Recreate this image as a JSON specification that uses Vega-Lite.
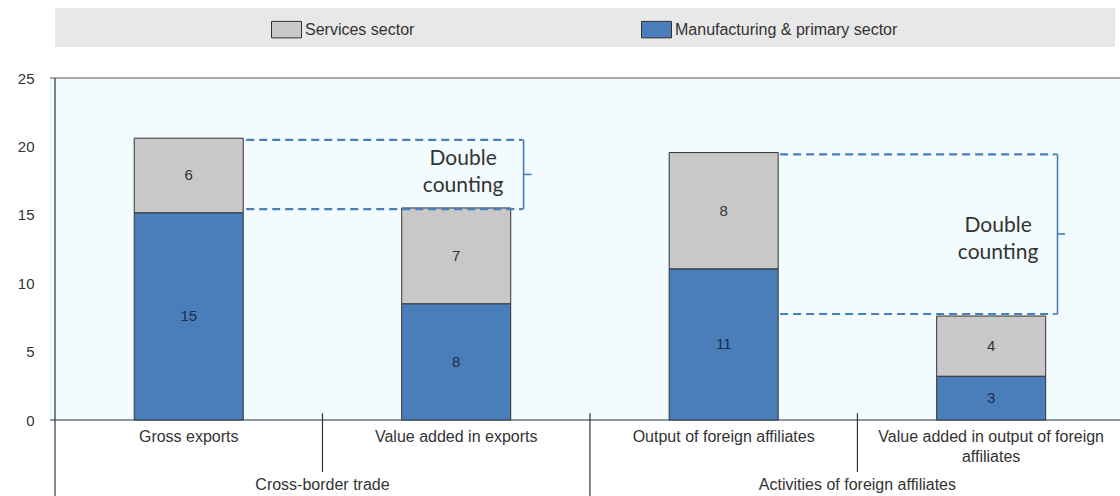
{
  "$schema": "https://vega.github.io/schema/vega-lite/v6.json",
  "width": 1070,
  "height": 342,
  "autosize": {"type": "none"},
  "padding": {"left": 50, "top": 78, "right": 0, "bottom": 76},
  "background": "white",
  "config": {
    "view": {"fill": "#f2fbfd", "stroke": null},
    "font": "Liberation Sans",
    "axisY": {"labelFont": "Liberation Sans", "labelFontSize": 15, "labelColor": "#333", "ticks": false, "domain": false, "grid": false, "labelPadding": 16, "title": null},
    "legend": {"orient": "none", "legendX": 221, "legendY": -64, "direction": "horizontal", "title": null, "labelFont": "Liberation Sans", "labelFontSize": 16, "labelColor": "#333", "symbolType": "M-1,-0.55H1V0.55H-1Z", "symbolSize": 900, "symbolStrokeColor": "#333", "symbolStrokeWidth": 1, "symbolOpacity": 1, "columnPadding": 224, "labelOffset": 3, "zindex": 1, "labelLimit": 400}
  },
  "datasets": {
    "bars": [
      {"category": "Gross exports", "pos": 0.5, "sector": "Manufacturing & primary sector", "value": 15.15, "label": "15"},
      {"category": "Gross exports", "pos": 0.5, "sector": "Services sector", "value": 5.45, "label": "6"},
      {"category": "Value added in exports", "pos": 1.5, "sector": "Manufacturing & primary sector", "value": 8.5, "label": "8"},
      {"category": "Value added in exports", "pos": 1.5, "sector": "Services sector", "value": 7.0, "label": "7"},
      {"category": "Output of foreign affiliates", "pos": 2.5, "sector": "Manufacturing & primary sector", "value": 11.05, "label": "11"},
      {"category": "Output of foreign affiliates", "pos": 2.5, "sector": "Services sector", "value": 8.5, "label": "8"},
      {"category": "Value added in output of foreign affiliates", "pos": 3.5, "sector": "Manufacturing & primary sector", "value": 3.2, "label": "3"},
      {"category": "Value added in output of foreign affiliates", "pos": 3.5, "sector": "Services sector", "value": 4.4, "label": "4"}
    ],
    "categories": [
      {"text": "Gross exports", "pos": 0.5},
      {"text": "Value added in exports", "pos": 1.5},
      {"text": "Output of foreign affiliates", "pos": 2.5},
      {"text": "Value added in output of foreign\naffiliates", "pos": 3.5}
    ],
    "groups": [
      {"text": "Cross-border trade", "pos": 1},
      {"text": "Activities of foreign affiliates", "pos": 3}
    ],
    "separators": [
      {"pos": 0, "start": 25, "end": -5.6},
      {"pos": 1, "start": 0.5, "end": -3.8},
      {"pos": 2, "start": 0.5, "end": -5.6},
      {"pos": 3, "start": 0.5, "end": -3.8}
    ],
    "band": [{"x": 0, "x2": 3.963, "y": 27.27, "y2": 30.12}],
    "topline": [{"y": 25}],
    "zeroline": [{"y": 0}],
    "dashed": [
      {"x": 0.715, "x2": 1.745, "y": 20.47},
      {"x": 0.715, "x2": 1.745, "y": 15.42},
      {"x": 2.711, "x2": 3.735, "y": 19.42},
      {"x": 2.711, "x2": 3.735, "y": 7.75}
    ],
    "brackets": [
      {"x": 1.752, "x2": 1.752, "y": 15.42, "y2": 20.47},
      {"x": 1.735, "x2": 1.752, "y": 20.47, "y2": 20.47},
      {"x": 1.735, "x2": 1.752, "y": 15.42, "y2": 15.42},
      {"x": 1.752, "x2": 1.782, "y": 17.95, "y2": 17.95},
      {"x": 3.748, "x2": 3.748, "y": 7.75, "y2": 19.42},
      {"x": 3.73, "x2": 3.748, "y": 19.42, "y2": 19.42},
      {"x": 3.73, "x2": 3.748, "y": 7.75, "y2": 7.75},
      {"x": 3.748, "x2": 3.776, "y": 13.6, "y2": 13.6}
    ],
    "notes": [
      {"text": "Double\ncounting", "x": 1.526, "y": 19.08},
      {"text": "Double\ncounting", "x": 3.526, "y": 14.18}
    ]
  },
  "layer": [
    {
      "data": {"name": "band"},
      "mark": {"type": "rect", "fill": "#e8e8e8", "clip": false},
      "encoding": {
        "x": {"field": "x", "type": "quantitative", "scale": {"domain": [0, 3.963], "nice": false, "zero": false}, "axis": null},
        "x2": {"field": "x2"},
        "y": {"field": "y", "type": "quantitative", "scale": {"domain": [0, 25], "nice": false}, "title": null},
        "y2": {"field": "y2"}
      }
    },
    {
      "data": {"name": "topline"},
      "mark": {"type": "rule", "color": "#555555", "strokeWidth": 1.2, "clip": false},
      "encoding": {
        "y": {"field": "y", "type": "quantitative", "scale": {"domain": [0, 25], "nice": false}, "title": null}
      }
    },
    {
      "data": {"name": "zeroline"},
      "mark": {"type": "rule", "color": "#8a9a9a", "strokeWidth": 1.8, "clip": false},
      "encoding": {
        "y": {"field": "y", "type": "quantitative", "scale": {"domain": [0, 25], "nice": false}, "title": null}
      }
    },
    {
      "data": {"name": "bars"},
      "mark": {"type": "bar", "width": 109, "stroke": "#333333", "strokeWidth": 1, "clip": false},
      "encoding": {
        "x": {"field": "pos", "type": "quantitative", "scale": {"domain": [0, 3.963], "nice": false, "zero": false}, "axis": null},
        "y": {"field": "value", "type": "quantitative", "stack": "zero", "scale": {"domain": [0, 25], "nice": false}, "axis": {"values": [0, 5, 10, 15, 20, 25]}, "title": null},
        "color": {"field": "sector", "type": "nominal", "scale": {"domain": ["Services sector", "Manufacturing & primary sector"], "range": ["#c8c8c8", "#4a7ebb"]}},
        "order": {"field": "sector", "sort": "ascending"}
      }
    },
    {
      "data": {"name": "bars"},
      "transform": [
        {"stack": "value", "groupby": ["pos"], "sort": [{"field": "sector", "order": "ascending"}], "as": ["v0", "v1"]},
        {"calculate": "(datum.v0 + datum.v1) / 2", "as": "mid"}
      ],
      "mark": {"type": "text", "font": "Liberation Sans", "fontSize": 15, "baseline": "middle", "align": "center"},
      "encoding": {
        "x": {"field": "pos", "type": "quantitative", "scale": {"domain": [0, 3.963], "nice": false, "zero": false}, "axis": null},
        "y": {"field": "mid", "type": "quantitative", "scale": {"domain": [0, 25], "nice": false}, "title": null},
        "text": {"field": "label"},
        "color": {"condition": {"test": "datum.sector === 'Services sector'", "value": "#333333"}, "value": "#1c2d4c"}
      }
    },
    {
      "data": {"name": "dashed"},
      "mark": {"type": "rule", "color": "#4a7ebb", "strokeWidth": 2.2, "strokeDash": [8, 5], "clip": false},
      "encoding": {
        "x": {"field": "x", "type": "quantitative", "scale": {"domain": [0, 3.963], "nice": false, "zero": false}, "axis": null},
        "x2": {"field": "x2"},
        "y": {"field": "y", "type": "quantitative", "scale": {"domain": [0, 25], "nice": false}, "title": null}
      }
    },
    {
      "data": {"name": "brackets"},
      "mark": {"type": "rule", "color": "#4a7ebb", "strokeWidth": 1.6, "clip": false},
      "encoding": {
        "x": {"field": "x", "type": "quantitative", "scale": {"domain": [0, 3.963], "nice": false, "zero": false}, "axis": null},
        "x2": {"field": "x2"},
        "y": {"field": "y", "type": "quantitative", "scale": {"domain": [0, 25], "nice": false}, "title": null},
        "y2": {"field": "y2"}
      }
    },
    {
      "data": {"name": "notes"},
      "mark": {"type": "text", "font": "Lato", "fontSize": 21, "lineBreak": "\n", "lineHeight": 27, "align": "center", "baseline": "middle", "color": "#333333"},
      "encoding": {
        "x": {"field": "x", "type": "quantitative", "scale": {"domain": [0, 3.963], "nice": false, "zero": false}, "axis": null},
        "y": {"field": "y", "type": "quantitative", "scale": {"domain": [0, 25], "nice": false}, "title": null},
        "text": {"field": "text"}
      }
    },
    {
      "data": {"name": "separators"},
      "mark": {"type": "rule", "color": "#333333", "strokeWidth": 1.2, "clip": false},
      "encoding": {
        "x": {"field": "pos", "type": "quantitative", "scale": {"domain": [0, 3.963], "nice": false, "zero": false}, "axis": null},
        "y": {"field": "start", "type": "quantitative", "scale": {"domain": [0, 25], "nice": false}, "title": null},
        "y2": {"field": "end"}
      }
    },
    {
      "data": {"name": "categories"},
      "mark": {"type": "text", "font": "Liberation Sans", "fontSize": 16, "lineBreak": "\n", "lineHeight": 20, "align": "center", "baseline": "top", "color": "#333333", "clip": false},
      "encoding": {
        "x": {"field": "pos", "type": "quantitative", "scale": {"domain": [0, 3.963], "nice": false, "zero": false}, "axis": null},
        "y": {"datum": -0.68, "type": "quantitative", "scale": {"domain": [0, 25], "nice": false}, "title": null},
        "text": {"field": "text"}
      }
    },
    {
      "data": {"name": "groups"},
      "mark": {"type": "text", "font": "Liberation Sans", "fontSize": 16, "align": "center", "baseline": "middle", "color": "#333333", "clip": false},
      "encoding": {
        "x": {"field": "pos", "type": "quantitative", "scale": {"domain": [0, 3.963], "nice": false, "zero": false}, "axis": null},
        "y": {"datum": -4.75, "type": "quantitative", "scale": {"domain": [0, 25], "nice": false}, "title": null},
        "text": {"field": "text"}
      }
    }
  ]
}
